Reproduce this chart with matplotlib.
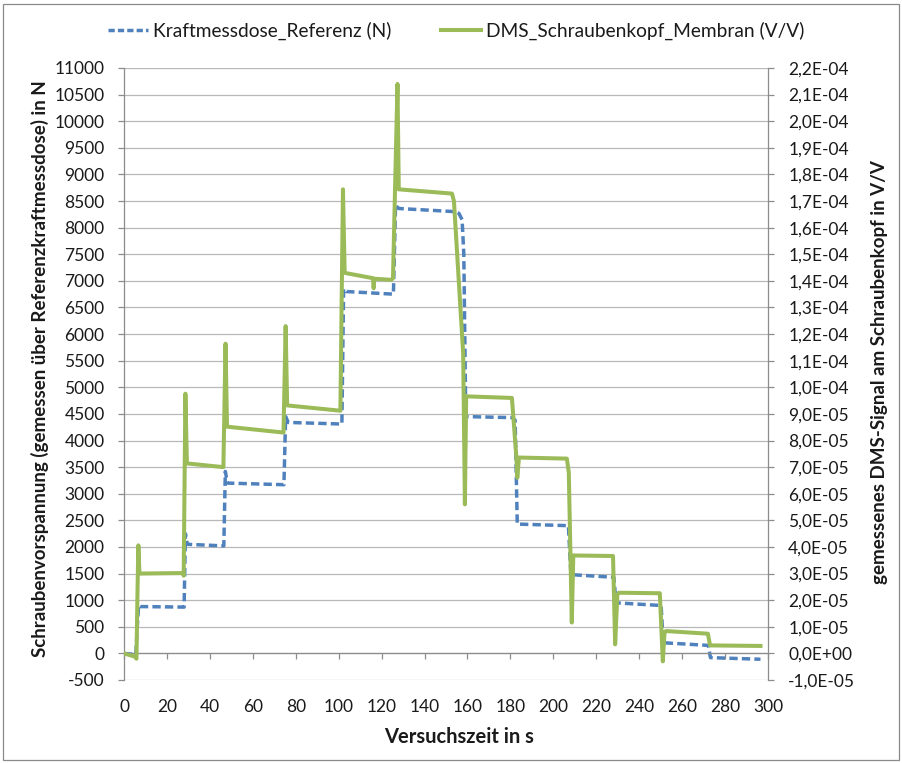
import numpy as np
import matplotlib
matplotlib.use("Agg")
import matplotlib.pyplot as plt
from matplotlib.lines import Line2D
from matplotlib.patches import Rectangle
from matplotlib.ticker import FuncFormatter, FixedLocator

plt.rcParams['font.family'] = ['Lato', 'DejaVu Sans']
plt.rcParams['axes.unicode_minus'] = False

# ---------------- data ----------------
# Reference load cell (N)
t_ref = [0, 5.5, 6.2, 6.8, 7.6, 28.0, 28.6, 29.5, 46.5, 47.2, 48.2, 74.5, 75.3, 76.5,
         101.5, 102.3, 103.5, 125.5, 126.5, 128.0, 154.5, 156.0, 157.5, 158.3, 159.2,
         181.0, 182.2, 183.2, 207.0, 208.2, 228.2, 229.2, 250.2, 251.2, 272.2, 273.2, 296.5]
f_ref = [0, -20, 500, 900, 880, 870, 2250, 2050, 2020, 3420, 3200, 3170, 4450, 4340,
         4310, 6850, 6800, 6750, 8420, 8360, 8300, 8270, 8150, 7500, 4450,
         4430, 4380, 2430, 2400, 1480, 1430, 950, 900, 200, 150, -80, -110]

# Strain gauge signal at screw head (V/V)
t_dms = [0, 5.0, 5.8, 6.3, 6.7, 7.2, 27.5, 27.8, 28.6, 29.3, 46.3, 47.3, 48.0, 74.3,
         75.3, 76.0, 100.8, 102.0, 102.8, 116.0, 116.3, 116.6, 124.5, 125.3, 127.4,
         128.0, 152.8, 153.7, 158.0, 158.8, 159.4, 180.7, 182.8, 183.2, 184.0, 206.3,
         207.2, 208.6, 209.3, 227.8, 228.8, 229.8, 230.5, 249.6, 251.0, 251.8, 252.5,
         272.0, 273.0, 296.5]
v_dms = [0.0, -0.12e-5, -0.20e-5, 2.40e-5, 4.06e-5, 3.00e-5, 3.02e-5, 2.92e-5, 9.76e-5,
         7.14e-5, 7.00e-5, 11.64e-5, 8.52e-5, 8.30e-5,
         12.30e-5, 9.32e-5, 9.12e-5, 17.44e-5, 14.30e-5, 14.10e-5, 13.72e-5, 14.08e-5,
         14.04e-5, 14.10e-5, 21.40e-5,
         17.44e-5, 17.28e-5, 17.00e-5, 11.28e-5, 5.60e-5, 9.66e-5, 9.60e-5, 7.36e-5,
         6.60e-5, 7.36e-5, 7.32e-5,
         6.80e-5, 1.16e-5, 3.68e-5, 3.66e-5, 0.34e-5, 2.20e-5, 2.28e-5, 2.26e-5,
         -0.30e-5, 0.80e-5, 0.84e-5,
         0.74e-5, 0.30e-5, 0.28e-5]

x_ticks = list(range(0, 301, 20))
left_ticks = list(range(-500, 11001, 500))
right_ticks = [round(k, 1) * 1e-5 for k in range(-1, 23)]

label_ref = 'Kraftmessdose_Referenz (N)'
label_dms = 'DMS_Schraubenkopf_Membran (V/V)'
xlabel = 'Versuchszeit in s'
ylabel_left = 'Schraubenvorspannung (gemessen über Referenzkraftmessdose) in N'
ylabel_right = 'gemessenes DMS-Signal am Schraubenkopf in V/V'

# ---------------- styling ----------------
BLUE = '#4F81BD'
GREEN = '#9BBB59'
GRID = '#B8B8B8'
AXC = '#8C8C8C'
TXT = '#1A1A1A'
FS = 12.5

W, H = 902, 763
fig = plt.figure(figsize=(W / 100, H / 100), dpi=100)
fig.patch.set_facecolor('white')
fig.add_artist(Rectangle((3 / W, 3 / H), (896) / W, (756) / H, transform=fig.transFigure,
                         fill=False, edgecolor='#8A8A8A', lw=0.9))

L, R, T, B = 124, 768, 68, 680
ax = fig.add_axes([L / W, 1 - B / H, (R - L) / W, (B - T) / H])
ax.set_xlim(0, 300)
ax.set_ylim(-500, 11000)
ax.set_facecolor('none')

ax2 = ax.twinx()
ax2.set_ylim(-1e-5, 2.2e-4)

# gridlines
ax.yaxis.grid(True, color=GRID, lw=0.9)
ax.set_axisbelow(True)

# spines
for s in ['top', 'right']:
    ax.spines[s].set_visible(False)
ax.spines['bottom'].set_position(('data', 0))
ax.spines['bottom'].set_color(AXC)
ax.spines['left'].set_color(AXC)
for s in ['top', 'left', 'bottom']:
    ax2.spines[s].set_visible(False)
ax2.spines['right'].set_color(AXC)
for sp in [ax.spines['bottom'], ax.spines['left'], ax2.spines['right']]:
    sp.set_linewidth(0.9)

# ticks
ax.xaxis.set_major_locator(FixedLocator(x_ticks))
ax.yaxis.set_major_locator(FixedLocator(left_ticks))
ax.yaxis.set_major_formatter(FuncFormatter(lambda v, p: f"{int(round(v))}"))
ax2.yaxis.set_major_locator(FixedLocator(right_ticks))
ax2.yaxis.set_major_formatter(FuncFormatter(lambda v, p: f"{v:.1E}".replace('.', ',')))

ax.tick_params(axis='x', direction='out', length=4.5, width=0.9, color=AXC,
               pad=28, labelsize=FS, labelcolor=TXT)
ax.tick_params(axis='y', direction='out', length=4.5, width=0.9, color=AXC,
               pad=9.5, labelsize=FS, labelcolor=TXT)
ax2.tick_params(axis='y', direction='out', length=4.5, width=0.9, color=AXC,
                pad=10, labelsize=FS, labelcolor=TXT)

# data lines
ax.plot(t_ref, f_ref, color=BLUE, lw=2.5, linestyle=(0, (2.4, 1.2)),
        solid_joinstyle='round', dash_capstyle='butt')
ax2.plot(t_dms, v_dms, color=GREEN, lw=2.9, solid_joinstyle='round')

# axis titles
fig.text(459 / W, 1 - 737 / H, xlabel, ha='center', va='center',
         fontsize=14.5, fontweight='bold', color=TXT)
fig.text(40 / W, 1 - 369 / H, ylabel_left, ha='center', va='center', rotation=90,
         fontsize=13.5, fontweight='bold', color=TXT)
fig.text(880 / W, 1 - 372 / H, ylabel_right, ha='center', va='center', rotation=90,
         fontsize=13.5, fontweight='bold', color=TXT)

# legend
handles = [Line2D([], [], color=BLUE, lw=2.5, linestyle=(0, (1.8, 0.9))),
           Line2D([], [], color=GREEN, lw=2.9)]
fig.legend(handles, [label_ref, label_dms], loc='center',
           bbox_to_anchor=(456 / W, 1 - 31 / H), ncol=2, frameon=False,
           fontsize=13.8, handlelength=2.1, handletextpad=0.25, columnspacing=2.6,
           labelcolor=TXT)

fig.savefig('out.png', dpi=100)
